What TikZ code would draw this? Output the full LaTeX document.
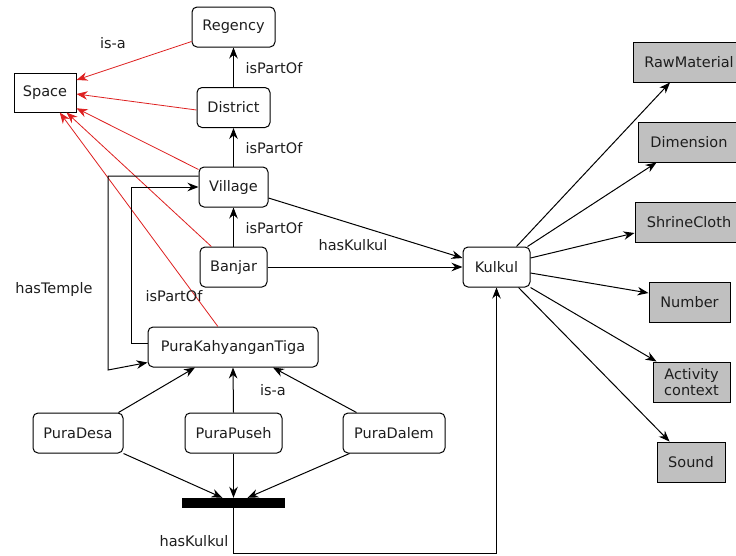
\documentclass[tikz,border=0pt]{standalone}
\usepackage{fontspec}
\setmainfont{DejaVu Sans}
\usetikzlibrary{arrows.meta}
\definecolor{boxgray}{RGB}{192,192,192}
\definecolor{isared}{RGB}{222,32,32}
\definecolor{txt}{RGB}{30,30,30}
\begin{document}
\begin{tikzpicture}[x=1pt,y=-1pt,
  every node/.style={font=\fontsize{14.5}{17}\selectfont, text=txt},
  cls/.style={draw, rounded corners=5pt, line width=1pt, minimum height=40pt, inner sep=0pt},
  sq/.style={draw, line width=1pt, minimum height=39pt, inner sep=0pt},
  grey/.style={draw, fill=boxgray, line width=1pt, minimum height=40pt, inner sep=0pt, align=center},
  rel/.style={-{Stealth[length=11pt,width=8.5pt]}, line width=1pt, black},
  isa/.style={-{Stealth[length=11pt,width=8.5pt]}, line width=0.8pt, isared},
  lbl/.style={inner sep=0pt}]
\useasboundingbox (0,0) rectangle (736,555);
\clip (0,0) rectangle (736,555);
\fill[white] (0,0) rectangle (736,555);

% nodes
\node[sq, minimum width=62pt] (Space) at (45,92.5) {Space};
\node[cls, minimum width=83pt] (Regency) at (233.5,27) {Regency};
\node[cls, minimum width=73pt] (District) at (233.5,107.5) {District};
\node[cls, minimum width=69pt] (Village) at (233.5,187) {Village};
\node[cls, minimum width=67pt] (Banjar) at (233.5,267) {Banjar};
\node[cls, minimum width=170pt] (PKT) at (233,347) {PuraKahyanganTiga};
\node[cls, minimum width=90pt] (PuraDesa) at (78,433) {PuraDesa};
\node[cls, minimum width=97pt] (PuraPuseh) at (233.5,433) {PuraPuseh};
\node[cls, minimum width=102pt] (PuraDalem) at (394,433) {PuraDalem};
\node[fill=black, minimum width=103pt, minimum height=10pt, inner sep=0pt] (bar) at (233.5,503) {};
\node[cls, minimum width=67pt] (Kulkul) at (496.5,267) {Kulkul};
\node[grey, minimum width=112pt] (Raw) at (689,62) {RawMaterial};
\node[grey, minimum width=102pt] (Dim) at (689,142) {Dimension};
\node[grey, minimum width=108pt] (Shrine) at (689,222) {ShrineCloth};
\node[grey, minimum width=81pt] (Number) at (689.5,302) {Number};
\node[grey, minimum width=77pt, font=\fontsize{14.5}{16}\selectfont] (Act) at (691.5,382) {Activity\\context};
\node[grey, minimum width=68pt] (Sound) at (691,462) {Sound};

% coordinates for bends
\coordinate (ht) at (108,370);
\coordinate (ip) at (131,187);
\coordinate (bk) at (496.5,553);

% is-a to Space (red)
\draw[isa] ([yshift=6pt]Regency.south west) -- ([yshift=12.5pt]Space.east);
\draw[isa] ([yshift=-2.5pt]District.west) -- ([yshift=-1.5pt]Space.east);
\draw[isa] (Village) -- (Space);
\draw[isa] (Banjar) -- (Space);
\draw[isa] (PKT) -- (Space);
\node[lbl] (lisa1) at (113,43) {is-a};

% isPartOf chain
\draw[rel] (District.north) -- (Regency.south);
\draw[rel] (Village.north) -- (District.south);
\draw[rel] (Banjar.north) -- (Village.south);
\node[lbl] (lp1) at (274,68) {isPartOf};
\node[lbl] (lp2) at (274,148) {isPartOf};
\node[lbl] (lp3) at (274,228) {isPartOf};

% hasTemple and isPartOf loops
\draw[rel] ([yshift=11pt]Village.west) -| (ht) -- ([yshift=5pt]PKT.south west);
\node[lbl] (lht) at (54,289) {hasTemple};
\draw[rel] ([yshift=4pt]PKT.west) -| (ip) -- (Village.west);
\node[lbl] (lp4) at (174,296) {isPartOf};

% hasKulkul from Village and Banjar
\draw[rel] ([yshift=-11pt]Village.east) -- ([yshift=9pt]Kulkul.west);
\draw[rel] (Banjar.east) -- (Kulkul.west);
\node[lbl] (lhk1) at (353,245) {hasKulkul};

% temples is-a PuraKahyanganTiga
\draw[rel] ([xshift=-5pt]PuraDesa.north east) -- ([xshift=-38pt]PKT.south);
\draw[rel] (PuraPuseh.north) -- (PKT.south);
\draw[rel] ([xshift=14pt]PuraDalem.north west) -- ([xshift=40pt]PKT.south);
\node[lbl] (lisa2) at (273,390) {is-a};

% temples to bar
\draw[rel] (PuraDesa.south east) -- ([xshift=-11pt]bar.north);
\draw[rel] (PuraPuseh.south) -- (bar.north);
\draw[rel] ([xshift=7pt]PuraDalem.south west) -- ([xshift=14pt]bar.north);

% bar to Kulkul
\draw[rel] (bar.south) |- (bk) -- (Kulkul.south);
\node[lbl] (lhk2) at (194,541) {hasKulkul};

% Kulkul properties
\draw[rel] ([xshift=-14pt]Kulkul.north east) -- ([xshift=-19pt]Raw.south);
\draw[rel] ([xshift=-3pt]Kulkul.north east) -- ([xshift=19pt]Dim.south west);
\draw[rel] ([yshift=9pt]Kulkul.east) -- ([yshift=-11pt]Shrine.west);
\draw[rel] ([yshift=-6pt]Kulkul.east) -- ([yshift=9pt]Number.west);
\draw[rel] (Kulkul.south east) -- ([xshift=4pt]Act.north west);
\draw[rel] ([xshift=-12pt]Kulkul.south east) -- ([xshift=13pt]Sound.north west);
\end{tikzpicture}
\end{document}
